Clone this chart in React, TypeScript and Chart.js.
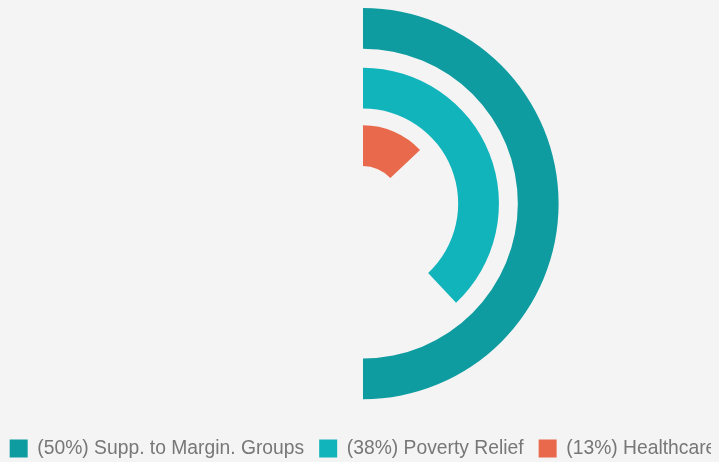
import React, { useEffect, useRef } from "react";
import { Chart, registerables } from "chart.js";

Chart.register(...registerables);

const categories = ["Supp. to Margin. Groups", "Poverty Relief", "Healthcare"];
const percents = [50, 38, 13];
const colors = ["#0f9ca1", "#12b4bc", "#e8694b"];

export default function App() {
  const ref = useRef<HTMLCanvasElement | null>(null);

  useEffect(() => {
    document.body.style.background = "#f4f4f4";
    document.body.style.overflow = "hidden";
    const ringWeight = 41;
    const gapWeights = [19, 17];
    const datasets: any[] = [];
    percents.forEach((p, i) => {
      datasets.push({
        data: [p, 100 - p],
        backgroundColor: [colors[i], "rgba(0,0,0,0)"],
        borderWidth: 0,
        weight: ringWeight,
      });
      if (i < gapWeights.length) {
        datasets.push({
          data: [100],
          backgroundColor: ["rgba(0,0,0,0)"],
          borderWidth: 0,
          weight: gapWeights[i],
        });
      }
    });
    const chart = new Chart(ref.current!, {
      type: "doughnut",
      data: { labels: ["a", "b"], datasets },
      options: {
        animation: false,
        responsive: true,
        maintainAspectRatio: false,
        events: [],
        cutout: 37.5,
        layout: { padding: { top: 0, bottom: 0.75 } },
        plugins: {
          tooltip: { enabled: false },
          legend: {
            position: "bottom",
            title: {
              display: true,
              text: " ",
              font: { size: 10 },
              padding: { top: 6.375, bottom: 6.375 },
            },
            labels: {
              boxWidth: 18,
              boxHeight: 18,
              padding: 15,
              color: "#777777",
              font: { family: "'Liberation Sans', Arial, sans-serif", size: 19.3 },
              generateLabels: () =>
                categories.map((c, i) => ({
                  text: `(${percents[i]}%) ${c}`,
                  fillStyle: colors[i],
                  strokeStyle: colors[i],
                  lineWidth: 0,
                  hidden: false,
                  index: i,
                  fontColor: "#777777",
                })),
            },
          },
        },
      },
    });
    return () => chart.destroy();
  }, []);

  return (
    <div style={{ position: "relative", width: 760, height: 461, marginLeft: -25 }}>
      <canvas ref={ref} />
    </div>
  );
}
